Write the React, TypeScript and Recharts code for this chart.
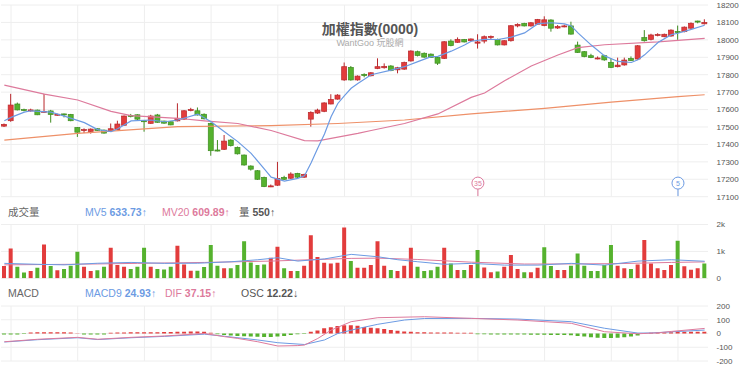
import React from "react";
import {
  ComposedChart,
  Bar,
  Line,
  XAxis,
  YAxis,
  CartesianGrid,
  ReferenceDot,
  Cell,
} from "recharts";

// open, high, low, close
const ohlc: [number, number, number, number][] = [
  [17505, 17520, 17500, 17515], [17536, 17690, 17530, 17626], [17632, 17640, 17595, 17598], [17600, 17605, 17590, 17597],
  [17592, 17605, 17588, 17598], [17597, 17600, 17568, 17570], [17585, 17690, 17583, 17590], [17592, 17598, 17525, 17572],
  [17568, 17576, 17565, 17573], [17575, 17577, 17555, 17570], [17572, 17575, 17533, 17536], [17497, 17500, 17443, 17470],
  [17480, 17492, 17465, 17485], [17474, 17492, 17462, 17488], [17490, 17493, 17477, 17480], [17482, 17485, 17462, 17465],
  [17479, 17520, 17476, 17490], [17485, 17536, 17482, 17517], [17510, 17566, 17507, 17563], [17566, 17575, 17555, 17561],
  [17570, 17573, 17540, 17545], [17536, 17538, 17473, 17532], [17521, 17570, 17518, 17563], [17569, 17575, 17524, 17527],
  [17534, 17536, 17518, 17522], [17530, 17533, 17510, 17512], [17535, 17636, 17532, 17550], [17545, 17597, 17540, 17593],
  [17594, 17610, 17590, 17600], [17593, 17612, 17566, 17569], [17573, 17578, 17543, 17547], [17521, 17525, 17335, 17364],
  [17368, 17425, 17360, 17362], [17372, 17454, 17368, 17419], [17425, 17430, 17388, 17393], [17383, 17388, 17342, 17346],
  [17339, 17342, 17278, 17282], [17276, 17280, 17250, 17258], [17249, 17253, 17196, 17200], [17211, 17215, 17155, 17158],
  [17158, 17170, 17155, 17162], [17166, 17300, 17162, 17204], [17211, 17220, 17196, 17200], [17206, 17240, 17202, 17230],
  [17234, 17237, 17208, 17212], [17212, 17232, 17208, 17228], [17545, 17590, 17502, 17584], [17580, 17605, 17575, 17597],
  [17590, 17642, 17585, 17638], [17632, 17688, 17630, 17658], [17660, 17688, 17657, 17683], [17770, 17870, 17765, 17846],
  [17842, 17850, 17766, 17770], [17770, 17796, 17766, 17792], [17802, 17808, 17785, 17795], [17794, 17815, 17790, 17811],
  [17836, 17894, 17832, 17846], [17840, 17865, 17835, 17848], [17850, 17855, 17820, 17824], [17828, 17845, 17808, 17840],
  [17832, 17875, 17828, 17870], [17879, 17940, 17875, 17936], [17932, 17938, 17905, 17910], [17923, 17928, 17897, 17901],
  [17918, 17922, 17896, 17899], [17900, 17904, 17856, 17866], [17894, 17993, 17890, 17989], [17993, 18003, 17963, 17967],
  [17986, 18014, 17983, 18003], [18002, 18005, 17985, 17988], [17995, 18008, 17990, 18005], [17981, 18032, 17950, 17988],
  [17993, 18025, 17980, 18018], [18014, 18025, 18005, 18020], [18003, 18007, 17968, 17971], [17971, 17998, 17968, 17995],
  [17995, 18085, 17990, 18081], [18080, 18095, 18072, 18089], [18094, 18098, 18077, 18080], [18080, 18102, 18076, 18098],
  [18090, 18120, 18086, 18117], [18082, 18135, 18078, 18115], [18114, 18118, 18047, 18067], [18068, 18085, 18063, 18076],
  [18075, 18087, 18072, 18080], [18080, 18104, 18030, 18033], [17970, 17990, 17925, 17928], [17932, 17936, 17900, 17904],
  [17909, 17920, 17895, 17898], [17892, 17905, 17888, 17896], [17909, 17914, 17880, 17885], [17871, 17895, 17838, 17842],
  [17846, 17898, 17842, 17855], [17856, 17898, 17852, 17884], [17893, 17905, 17878, 17881], [17890, 17970, 17886, 17966],
  [18013, 18056, 17990, 17995], [18003, 18035, 17997, 18028], [18025, 18038, 18020, 18031], [18018, 18036, 18015, 18032],
  [18022, 18060, 18018, 18056], [18048, 18082, 18000, 18045], [18047, 18077, 18043, 18073], [18067, 18100, 18063, 18095],
  [18108, 18110, 18095, 18102], [18092, 18118, 18088, 18100],
];

const volumes = [
  455, 1110, 430, 220, 270, 395, 1260, 455, 295, 345,
  465, 985, 430, 270, 295, 430, 1135, 490, 430, 345,
  430, 1135, 430, 345, 330, 430, 1210, 515, 285, 285,
  420, 1235, 465, 370, 370, 490, 1380, 590, 490, 515,
  765, 1170, 370, 270, 270, 465, 1605, 790, 580, 550,
  580, 1890, 640, 395, 395, 490, 1380, 465, 310, 270,
  465, 1135, 430, 270, 295, 430, 1135, 550, 310, 310,
  490, 1050, 400, 225, 250, 430, 865, 345, 225, 225,
  395, 1150, 455, 310, 310, 465, 925, 465, 270, 270,
  490, 1235, 465, 370, 345, 515, 1420, 550, 370, 310,
  490, 1400, 450, 320, 370, 550,
];

const osc = [
  -8, -8, -7, -3, 8, 9, 9, 10, 9, 9, 8, 2, -8, -8, -8, -7, 5, 7,
  8, 9, 9, 9, 10, 10, 11, 11, 12, 13, 14, 14, 12, 5,
  -5, -10, -14, -18, -20, -22, -24, -25, -25, -22, -18, -10, -5, -3,
  12, 22, 38, 45, 55, 60, 60, 56, 47, 42, 38, 33, 26, 20, 14, 12, 9, 9, 8, 7, 7, 7, 6, 6, 5,
  -6, -6, -7, -7, -7, -8, -8, -8, -9, -9, -9, -10, -10, -11, -12,
  -18, -22, -27, -30, -32, -32, -30, -28, -22, -15, -4,
  6, 8, 9, 10, 11, 12, 12, 13, 12,
];

// moving averages: [candle index, value]
const ma5Pts: [number, number][] = [
  [0, 17536], [1, 17555], [3, 17585], [4, 17593], [7, 17585], [9, 17562], [12, 17525], [14, 17485],
  [16, 17473], [17, 17490], [19, 17535], [22, 17540], [24, 17530], [26, 17540], [29, 17574], [31, 17530],
  [33, 17473], [35, 17416], [37, 17349], [39, 17258], [40, 17212], [42, 17190], [44, 17205], [45, 17220],
  [46, 17295], [47, 17380], [48, 17460], [49, 17560], [50, 17635], [51, 17680], [52, 17722], [53, 17750],
  [55, 17800], [58, 17826], [60, 17846], [62, 17875], [64, 17904], [65, 17905], [67, 17935], [69, 17970],
  [70, 17992], [72, 18003], [74, 18002], [76, 18016], [78, 18040], [80, 18093], [82, 18098], [84, 18092],
  [85, 18080], [86, 18040], [88, 17970], [90, 17908], [92, 17876], [94, 17870], [95, 17886], [96, 17914],
  [98, 17985], [100, 18030], [101, 18038], [103, 18060], [105, 18084],
];
const ma20Pts: [number, number][] = [
  [0, 17740], [6, 17689], [11, 17655], [16, 17590], [19, 17565], [26, 17550], [30, 17535], [35, 17520],
  [40, 17480], [45, 17422], [47, 17420], [53, 17463], [55, 17480], [60, 17520], [65, 17575], [70, 17670],
  [72, 17695], [75, 17765], [79, 17850], [83, 17913], [86, 17955], [90, 17972], [98, 17988], [105, 18009],
];
const ma60Pts: [number, number][] = [
  [0, 17425], [11, 17463], [26, 17502], [40, 17508], [50, 17520], [60, 17540], [70, 17575],
  [81, 17607], [91, 17643], [101, 17674], [105, 17685],
];
const mv5Pts: [number, number][] = [
  [0, 555], [5, 520], [9, 500], [14, 560], [19, 590], [24, 555], [29, 560], [34, 615], [38, 690],
  [41, 765], [44, 640], [48, 720], [52, 890], [56, 800], [59, 690], [62, 615], [66, 520], [70, 555],
  [75, 490], [80, 490], [85, 555], [90, 490], [95, 640], [100, 690], [105, 634],
];
const mv20Pts: [number, number][] = [
  [0, 500], [10, 520], [20, 555], [30, 590], [40, 640], [47, 700], [52, 740], [56, 750], [62, 700],
  [70, 600], [78, 530], [85, 535], [92, 545], [100, 590], [105, 610],
];
const difPts: [number, number][] = [
  [0, -60], [5, -42], [11, -28], [14, -42], [19, -28], [24, -18], [30, 0], [33, -23], [35, -36], [38, -60],
  [41, -91], [44, -88], [45, -84], [47, -36], [49, 25], [52, 86], [56, 115], [63, 122], [70, 110], [77, 98],
  [85, 74], [90, 13], [95, -2], [98, 5], [100, 15], [105, 37],
];
const macd9Pts: [number, number][] = [
  [0, -62], [5, -45], [11, -31], [14, -44], [19, -31], [24, -21], [30, -5], [33, -20], [38, -47], [41, -67],
  [45, -80], [48, -47], [50, 0], [53, 36], [56, 67], [60, 98], [63, 109], [70, 110], [77, 105], [85, 86],
  [90, 38], [95, 3], [97, 4], [100, 12], [105, 25],
];

const priceTicks = [17100, 17200, 17300, 17400, 17500, 17600, 17700, 17800, 17900, 18000, 18100, 18200];
const volTicks = [0, 1000, 2000];
const macdTicks = [-200, -100, 0, 100, 200];
const gridIdx = [1, 11, 21, 31, 41, 51, 61, 71, 81, 91, 101];
const markerIdx = [71, 101];
const markerText = ["35", "5"];
const markerPrice = 17178;

const RED = "#e23c3c";
const RED_D = "#b8282c";
const GREEN = "#55b22e";
const GREEN_D = "#3f8c21";
const BLUE = "#6c9be3";
const PINK = "#dd7a9c";
const ORANGE = "#ee9068";
const GRID = "#eeeeee";
const FONT = "'Liberation Sans', Arial, 'Noto Sans CJK TC', sans-serif";

const toMap = (pts: [number, number][]) => new Map(pts.map(([i, v]) => [i, v]));
const m5 = toMap(ma5Pts), m20 = toMap(ma20Pts), m60 = toMap(ma60Pts);
const v5 = toMap(mv5Pts), v20 = toMap(mv20Pts);
const dif = toMap(difPts), sig = toMap(macd9Pts);

const rows = ohlc.map(([o, h, l, c], i) => ({
  i, o, h, l, c,
  range: [l, h],
  vol: volumes[i],
  volUp: i === 0 ? c >= o : c >= ohlc[i - 1][3],
  osc: osc[i],
  ma5: m5.get(i) ?? null,
  ma20: m20.get(i) ?? null,
  ma60: m60.get(i) ?? null,
  mv5: v5.get(i) ?? null,
  mv20: v20.get(i) ?? null,
  dif: dif.get(i) ?? null,
  macd9: sig.get(i) ?? null,
}));

// vertical grid at every 10th candle, placed through the x axis scale
const gridGen = (p: any) => {
  const s = p?.xAxis?.scale;
  if (typeof s === "function") {
    const bw = typeof s.bandwidth === "function" ? s.bandwidth() : 0;
    return gridIdx.map((g) => s(g) + bw / 2);
  }
  const off = p.offset;
  return gridIdx.map((g) => off.left + ((g + 0.5) * off.width) / rows.length);
};

function Candle(props: any) {
  const { x, y, width, height, payload } = props;
  if (!payload) return null;
  const { o, h, l, c } = payload;
  const top = Math.min(y, y + height);
  const hgt = Math.abs(height);
  const k = hgt / Math.max(1, h - l);
  const cx = x + width / 2;
  const up = c >= o;
  const bodyTop = top + (h - Math.max(o, c)) * k;
  const bodyH = Math.max(1, Math.abs(o - c) * k);
  return (
    <g>
      <line x1={cx} x2={cx} y1={top} y2={top + hgt} stroke={up ? RED_D : GREEN_D} strokeWidth={1} />
      <rect x={x + 0.5} y={bodyTop} width={width - 1} height={bodyH}
        fill={up ? RED : GREEN} stroke={up ? RED_D : GREEN_D} strokeWidth={0.7} />
    </g>
  );
}

function MarkerShape(props: any) {
  const { cx, cy, color, text } = props;
  return (
    <g>
      <line x1={cx} x2={cx} y1={cy + 6} y2={cy + 13} stroke={color} strokeWidth={1} />
      <circle cx={cx} cy={cy} r={6} fill="#fff" stroke={color} strokeWidth={1} />
      <text x={cx} y={cy + 2.5} textAnchor="middle" fontSize={7} fill={color} fontFamily={FONT}>
        {text}
      </text>
    </g>
  );
}

const axisTick = { fill: "#555", fontSize: 8, fontFamily: FONT };
const W = 740;
const margins = (top: number, bottom: number) => ({ top, bottom, left: 1, right: 0 });

const label: React.CSSProperties = {
  position: "absolute", fontSize: 10.5, lineHeight: "11px", fontFamily: FONT, whiteSpace: "nowrap",
};

export default function App() {
  return (
    <div style={{ position: "absolute", left: 0, top: 0, width: W, height: 367, background: "#fff", overflow: "hidden" }}>
      <div style={{ position: "absolute", left: 0, top: 0 }}>
        <ComposedChart width={W} height={206} data={rows} margin={margins(5, 9.3)} barCategoryGap={0}>
          <CartesianGrid stroke={GRID} verticalCoordinatesGenerator={gridGen} />
          <XAxis dataKey="i" type="category" hide />
          <YAxis orientation="right" width={32} domain={[17100, 18200]} ticks={priceTicks} allowDataOverflow
            axisLine={false} tickLine={false} tickSize={0} tickMargin={8.5} tick={axisTick} interval={0} />
          <Bar dataKey="range" barSize={6} shape={<Candle />} isAnimationActive={false} />
          <Line dataKey="ma60" stroke={ORANGE} strokeWidth={1.2} dot={false} connectNulls isAnimationActive={false} />
          <Line dataKey="ma20" stroke={PINK} strokeWidth={1.2} dot={false} connectNulls isAnimationActive={false} />
          <Line dataKey="ma5" stroke={BLUE} strokeWidth={1.2} dot={false} connectNulls isAnimationActive={false} />
          {markerIdx.map((m, k) => (
            <ReferenceDot key={"m" + m} x={m} y={markerPrice} r={6} ifOverflow="visible"
              shape={(p: any) => <MarkerShape {...p} color={k === 0 ? PINK : BLUE} text={markerText[k]} />} />
          ))}
        </ComposedChart>
      </div>

      <div style={{ position: "absolute", left: 0, top: 22, width: W, textAlign: "center", fontSize: 14, lineHeight: "14px", fontWeight: "bold", color: "#555", fontFamily: FONT }}>
        加權指數(0000)
      </div>
      <div style={{ position: "absolute", left: 0, top: 38.5, width: W, textAlign: "center", fontSize: 9, lineHeight: "9px", color: "#aaa", fontFamily: FONT }}>
        WantGoo 玩股網
      </div>

      <div style={{ ...label, left: 8, top: 206.5, color: "#666" }}>成交量</div>
      <div style={{ ...label, left: 85, top: 206.5, color: BLUE }}>
        MV5 <b>633.73</b>↑
      </div>
      <div style={{ ...label, left: 162, top: 206.5, color: PINK }}>
        MV20 <b>609.89</b>↑
      </div>
      <div style={{ ...label, left: 239, top: 206.5, color: "#555" }}>
        量 <b>550</b>↑
      </div>

      <div style={{ position: "absolute", left: 0, top: 220 }}>
        <ComposedChart width={W} height={62} data={rows} margin={margins(4.5, 3.7)} barCategoryGap={0}>
          <CartesianGrid stroke={GRID} verticalCoordinatesGenerator={gridGen} />
          <XAxis dataKey="i" type="category" hide />
          <YAxis orientation="right" width={32} domain={[0, 2000]} ticks={volTicks} allowDataOverflow
            axisLine={false} tickLine={false} tickSize={0} tickMargin={8.5} tick={axisTick} interval={0}
            tickFormatter={(v: number) => (v === 0 ? "0" : v / 1000 + "k")} />
          <Bar dataKey="vol" barSize={4} isAnimationActive={false}>
            {rows.map((r) => (
              <Cell key={r.i} fill={r.volUp ? RED : GREEN} />
            ))}
          </Bar>
          <Line dataKey="mv20" stroke={PINK} strokeWidth={1} dot={false} connectNulls isAnimationActive={false} />
          <Line dataKey="mv5" stroke={BLUE} strokeWidth={1} dot={false} connectNulls isAnimationActive={false} />
        </ComposedChart>
      </div>

      <div style={{ ...label, left: 8, top: 287.5, color: "#666" }}>MACD</div>
      <div style={{ ...label, left: 85, top: 287.5, color: BLUE }}>
        MACD9 <b>24.93</b>↑
      </div>
      <div style={{ ...label, left: 165, top: 287.5, color: PINK }}>
        DIF <b>37.15</b>↑
      </div>
      <div style={{ ...label, left: 241, top: 287.5, color: "#555" }}>
        OSC <b>12.22</b>↓
      </div>

      <div style={{ position: "absolute", left: 0, top: 290 }}>
        <ComposedChart width={W} height={77} data={rows} margin={margins(16, 6)} barCategoryGap={0}>
          <CartesianGrid stroke={GRID} verticalCoordinatesGenerator={gridGen} />
          <XAxis dataKey="i" type="category" hide />
          <YAxis orientation="right" width={32} domain={[-200, 200]} ticks={macdTicks} allowDataOverflow
            axisLine={false} tickLine={false} tickSize={0} tickMargin={8.5} tick={axisTick} interval={0} />
          <Bar dataKey="osc" barSize={4} isAnimationActive={false}>
            {rows.map((r) => (
              <Cell key={r.i} fill={r.osc >= 0 ? RED : GREEN} />
            ))}
          </Bar>
          <Line dataKey="macd9" stroke={BLUE} strokeWidth={1} dot={false} connectNulls isAnimationActive={false} />
          <Line dataKey="dif" stroke={PINK} strokeWidth={1} dot={false} connectNulls isAnimationActive={false} />
        </ComposedChart>
      </div>
    </div>
  );
}
